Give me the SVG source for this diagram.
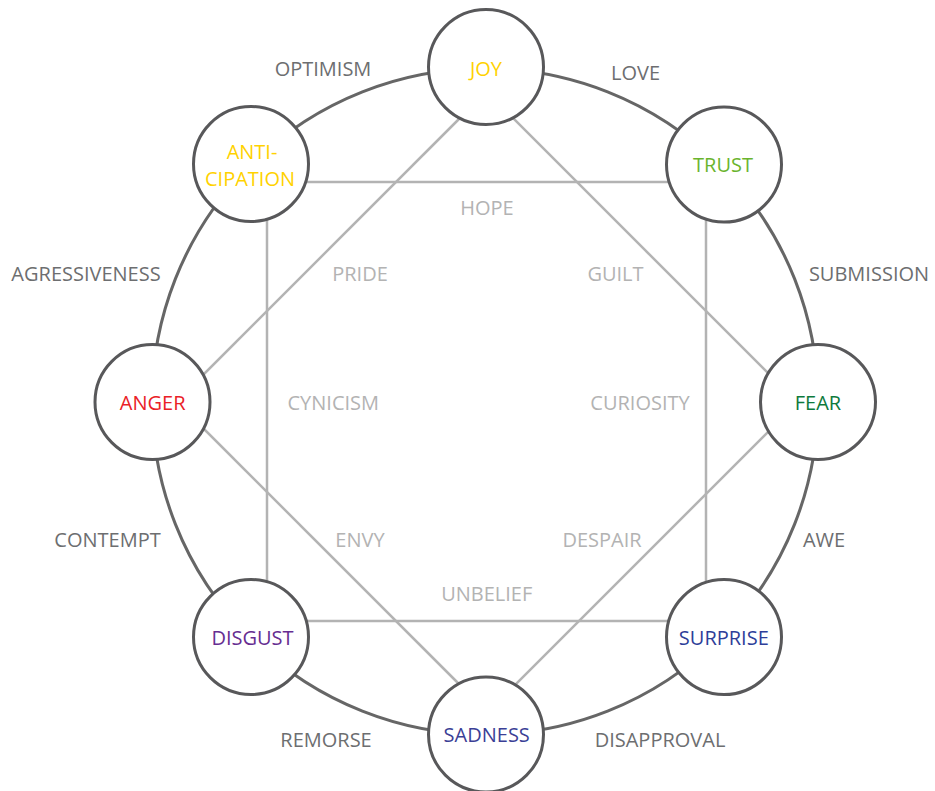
<svg xmlns="http://www.w3.org/2000/svg" width="935" height="791" viewBox="0 0 935 791">
<style>
  .ring{fill:none;stroke:#666666;stroke-width:3}
  .chord{stroke:#b3b3b3;stroke-width:2.5;fill:none}
  .node{fill:#ffffff;stroke:#58585a;stroke-width:3}
  text{font-family:"Open Sans","Liberation Sans",sans-serif;font-size:20px;text-anchor:middle}
  .outer{fill:#6d6e70}
  .inner{fill:#b3b3b3}
</style>
<rect width="935" height="791" fill="#ffffff"/>
<g id="connectors">
  <circle class="ring" cx="485" cy="401.5" r="333"/>
  <line class="chord" x1="251" y1="182" x2="724" y2="182"/>
  <line class="chord" x1="251" y1="621" x2="724" y2="621"/>
  <line class="chord" x1="267" y1="164" x2="267" y2="637"/>
  <line class="chord" x1="706" y1="164" x2="706" y2="637"/>
  <line class="chord" x1="470" y1="108" x2="180" y2="398"/>
  <line class="chord" x1="500" y1="105" x2="800" y2="405"/>
  <line class="chord" x1="180" y1="405" x2="470" y2="695"/>
  <line class="chord" x1="800" y1="400" x2="500" y2="700"/>
</g>
<g id="labels">
  <text class="outer" x="323" y="76">OPTIMISM</text>
  <text class="outer" x="635.5" y="80">LOVE</text>
  <text class="outer" x="869" y="281">SUBMISSION</text>
  <text class="outer" x="86" y="281">AGRESSIVENESS</text>
  <text class="outer" x="107.5" y="546.7">CONTEMPT</text>
  <text class="outer" x="824" y="546.7">AWE</text>
  <text class="outer" x="326" y="746.7">REMORSE</text>
  <text class="outer" x="660" y="746.7">DISAPPROVAL</text>
  <text class="inner" x="487" y="215">HOPE</text>
  <text class="inner" x="360" y="281">PRIDE</text>
  <text class="inner" x="615.5" y="281">GUILT</text>
  <text class="inner" x="333.3" y="410">CYNICISM</text>
  <text class="inner" x="640" y="410">CURIOSITY</text>
  <text class="inner" x="360" y="546.7">ENVY</text>
  <text class="inner" x="602" y="546.7">DESPAIR</text>
  <text class="inner" x="486.7" y="601">UNBELIEF</text>
</g>
<g id="joy">
  <circle class="node" cx="486" cy="67" r="57.5"/>
  <text x="486" y="76" fill="#ffd200">JOY</text>
</g>
<g id="trust">
  <circle class="node" cx="724" cy="164.5" r="57.5"/>
  <text x="723" y="171.7" fill="#6ab42d">TRUST</text>
</g>
<g id="fear">
  <circle class="node" cx="818" cy="402" r="57.5"/>
  <text x="818" y="410" fill="#0e7a3d">FEAR</text>
</g>
<g id="surprise">
  <circle class="node" cx="724" cy="637" r="57.5"/>
  <text x="723.8" y="645" fill="#2e3e99">SURPRISE</text>
</g>
<g id="sadness">
  <circle class="node" cx="486" cy="734.5" r="57.5"/>
  <text x="486.7" y="742" fill="#3b3f96">SADNESS</text>
</g>
<g id="disgust">
  <circle class="node" cx="251" cy="637" r="57.5"/>
  <text x="252.5" y="645" fill="#662d91">DISGUST</text>
</g>
<g id="anger">
  <circle class="node" cx="152.5" cy="402" r="57.5"/>
  <text x="152.7" y="410" fill="#ea2127">ANGER</text>
</g>
<g id="anticipation">
  <circle class="node" cx="251" cy="164" r="57.5"/>
  <text x="252" y="159.3" fill="#ffd200">ANTI-</text>
  <text x="250" y="185.7" fill="#ffd200">CIPATION</text>
</g>
</svg>
